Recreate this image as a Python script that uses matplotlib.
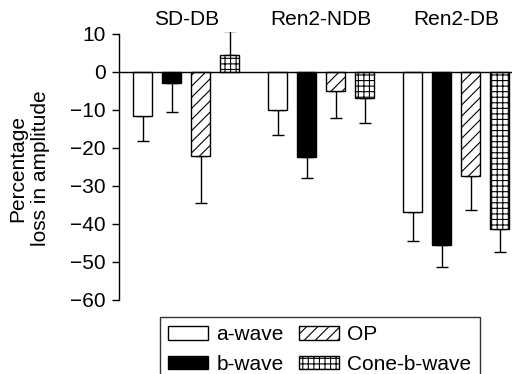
import matplotlib
matplotlib.use("Agg")
import matplotlib.pyplot as plt
import numpy as np
from matplotlib.patches import Patch

plt.rcParams['font.family'] = ['Liberation Sans', 'DejaVu Sans']
plt.rcParams['hatch.linewidth'] = 0.8

groups = ["SD-DB", "Ren2-NDB", "Ren2-DB"]
series = ["a-wave", "b-wave", "OP", "Cone-b-wave"]
a_wave = [-11.7, -10.0, -36.8]
b_wave = [-3.0, -22.5, -45.5]
op = [-22.0, -5.0, -27.3]
cone = [4.5, -6.8, -41.3]
a_err = [6.5, 6.7, 7.7]
b_err = [7.5, 5.5, 5.8]
op_err = [12.5, 7.0, 9.0]
cone_err = [6.3, 6.5, 6.0]
yticks = [10, 0, -10, -20, -30, -40, -50, -60]

values = [a_wave, b_wave, op, cone]
errors = [a_err, b_err, op_err, cone_err]
faces = ["white", "black", "white", "white"]
hatches = [None, None, "///", "+++"]

W, H = 514, 374
fig = plt.figure(figsize=(W / 100, H / 100), dpi=100)
ax = fig.add_axes([119 / W, 1 - 301.9 / H, (512 - 119) / W, (301.9 - 31.7) / H])

gap = 4.65
width = 0.65
for i, (vals, errs) in enumerate(zip(values, errors)):
    xs = np.arange(len(groups)) * gap + i
    ax.bar(xs, vals, width=width, color=faces[i], edgecolor="black",
           linewidth=1.0, hatch=hatches[i], zorder=3)
    vals_a = np.array(vals)
    errs_a = np.array(errs)
    lower = np.where(vals_a < 0, errs_a, 0)
    upper = np.where(vals_a >= 0, errs_a, 0)
    ax.errorbar(xs, vals, yerr=[lower, upper], fmt="none", ecolor="black",
                elinewidth=1.0, capsize=4.3, capthick=1.0, zorder=2)

ax.axhline(0, color="black", linewidth=1.0, zorder=4)
ax.set_xlim(-0.82, 2 * gap + 3 + 0.43)
ax.set_ylim(-60.5, 10.6)
ax.set_yticks(yticks)
ax.set_yticklabels([str(t).replace("-", "\u2212") for t in yticks], fontsize=15)
ax.spines['left'].set_bounds(-60, 10)
ax.spines['left'].set_linewidth(1.0)
for s in ["top", "right", "bottom"]:
    ax.spines[s].set_visible(False)
ax.set_xticks([])
ax.tick_params(axis="y", direction="out", length=5, width=1, pad=4.5)

fig.text(29 / W, 1 - 168 / H, "Percentage\nloss in amplitude", rotation=90,
         ha="center", va="center", fontsize=15, linespacing=1.2, multialignment="center")

for g, name in enumerate(groups):
    cx = g * gap + 1.5
    xf = fig.transFigure.inverted().transform(ax.transData.transform((cx, 0)))[0]
    fig.text(xf, 1 - 19.5 / H, name, ha="center", va="center", fontsize=15)

handles = [Patch(facecolor=faces[i], edgecolor="black", hatch=hatches[i], linewidth=1.0)
           for i in range(4)]
leg = fig.legend(handles, series, loc="upper left",
                 bbox_to_anchor=(160 / W, 1 - 317 / H), bbox_transform=fig.transFigure,
                 ncol=2, fontsize=15, frameon=True, fancybox=False, edgecolor="black",
                 handlelength=1.9, handleheight=0.6, handletextpad=0.4,
                 columnspacing=0.75, labelspacing=0.5, borderpad=0.4, borderaxespad=0)
leg.get_frame().set_linewidth(1.0)

fig.savefig("out.png", dpi=100)
